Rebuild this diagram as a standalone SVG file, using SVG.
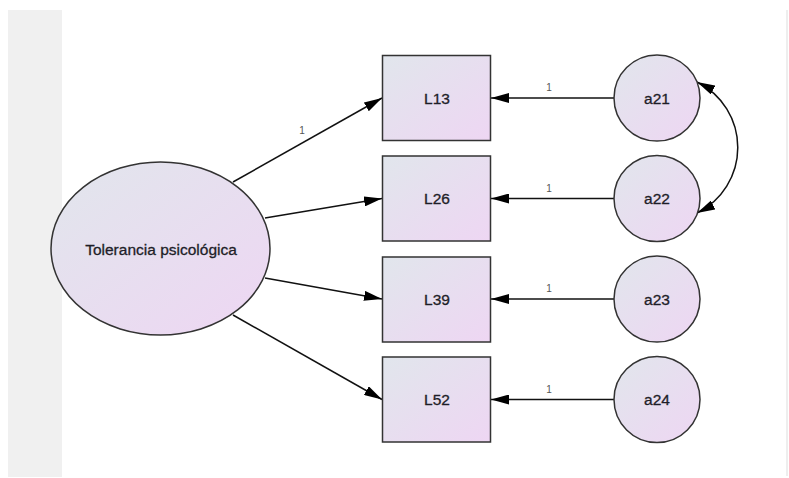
<svg xmlns="http://www.w3.org/2000/svg" width="789" height="478" viewBox="0 0 789 478">
  <defs>
    <linearGradient id="fillg" x1="0" y1="0" x2="1" y2="1">
      <stop offset="0" stop-color="#e1e6ec"/>
      <stop offset="1" stop-color="#eed6f3"/>
    </linearGradient>
    <marker id="ah" viewBox="0 0 18 10" refX="18" refY="5" markerWidth="18" markerHeight="10" markerUnits="userSpaceOnUse" orient="auto-start-reverse">
      <path d="M0,0 L18,5 L0,10 z" fill="#000"/>
    </marker>
    <style>
      .node { fill: url(#fillg); stroke: #333; stroke-width: 1.5; }
      .lbl { font-family: "Liberation Sans", Arial, sans-serif; font-size: 15.5px; fill: #1e1e28; stroke: #1e1e28; stroke-width: 0.3; text-anchor: middle; dominant-baseline: central; }
      .num { font-family: "Liberation Sans", Arial, sans-serif; font-size: 10px; fill: #555; text-anchor: middle; }
      .edge { stroke: #111; stroke-width: 1.5; fill: none; marker-end: url(#ah); }
    </style>
  </defs>
  <rect x="0" y="0" width="789" height="478" fill="#fff"/>
  <rect x="8" y="10" width="54" height="467" fill="#f0f0f0"/>
  <rect x="786" y="10" width="2" height="466" fill="#eeeeee"/>

  <g id="connectors">
    <line class="edge" x1="233" y1="182" x2="382" y2="98"/>
    <line class="edge" x1="265" y1="218" x2="382" y2="198.5"/>
    <line class="edge" x1="265" y1="278" x2="382" y2="299"/>
    <line class="edge" x1="233" y1="315" x2="382" y2="399.5"/>
    <line class="edge" x1="614" y1="98" x2="491" y2="98"/>
    <line class="edge" x1="614" y1="198.5" x2="491" y2="198.5"/>
    <line class="edge" x1="614" y1="299" x2="491" y2="299"/>
    <line class="edge" x1="614" y1="399.5" x2="491" y2="399.5"/>
    <path class="edge" style="marker-start:url(#ah)" d="M697,82 A73,73 0 0 1 697,213"/>
    <text class="num" x="302" y="134">1</text>
    <text class="num" x="549" y="91">1</text>
    <text class="num" x="549" y="192">1</text>
    <text class="num" x="549" y="292">1</text>
    <text class="num" x="549" y="393">1</text>
  </g>

  <g id="tolerancia">
    <ellipse class="node" cx="160.5" cy="248.5" rx="109.5" ry="86.5"/>
    <text class="lbl" x="161" y="249">Tolerancia psicológica</text>
  </g>

  <g id="L13">
    <rect class="node" x="382.5" y="55.5" width="108" height="85"/>
    <text class="lbl" x="437" y="98">L13</text>
  </g>
  <g id="L26">
    <rect class="node" x="382.5" y="156" width="108" height="85"/>
    <text class="lbl" x="437" y="198.5">L26</text>
  </g>
  <g id="L39">
    <rect class="node" x="382.5" y="257" width="108" height="85"/>
    <text class="lbl" x="437" y="299.5">L39</text>
  </g>
  <g id="L52">
    <rect class="node" x="382.5" y="357" width="108" height="85"/>
    <text class="lbl" x="437" y="399.5">L52</text>
  </g>

  <g id="a21">
    <circle class="node" cx="657" cy="98" r="43"/>
    <text class="lbl" x="657" y="98">a21</text>
  </g>
  <g id="a22">
    <circle class="node" cx="657" cy="198.5" r="43"/>
    <text class="lbl" x="657" y="198.5">a22</text>
  </g>
  <g id="a23">
    <circle class="node" cx="657" cy="299" r="43"/>
    <text class="lbl" x="657" y="299">a23</text>
  </g>
  <g id="a24">
    <circle class="node" cx="657" cy="399.5" r="43"/>
    <text class="lbl" x="657" y="399.5">a24</text>
  </g>
</svg>
